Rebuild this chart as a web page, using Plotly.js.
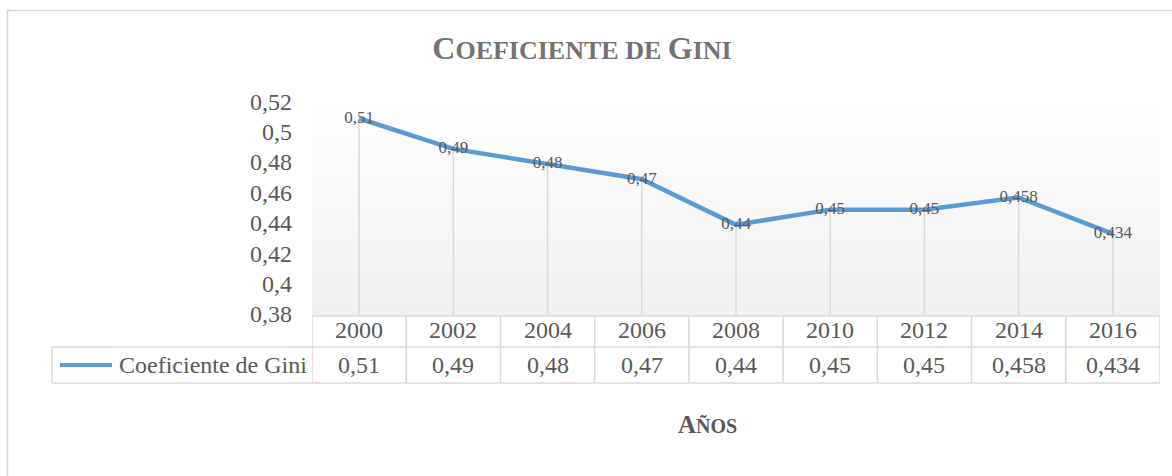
<!DOCTYPE html>
<html>
<head>
<meta charset="utf-8">
<script src="https://cdn.plot.ly/plotly-3.0.1.min.js"></script>
<style>html,body{margin:0;padding:0;background:#fff;}#chart{width:1172px;height:476px;}</style>
</head>
<body>
<div id="chart"></div>
<script>
// ---- data ----
const years = ['2000', '2002', '2004', '2006', '2008', '2010', '2012', '2014', '2016'];
const gini = [0.51, 0.49, 0.48, 0.47, 0.44, 0.45, 0.45, 0.458, 0.434];
const seriesName = 'Coeficiente de Gini';
const yTicks = [0.38, 0.40, 0.42, 0.44, 0.46, 0.48, 0.50, 0.52];
const chartTitle = 'C<span style="font-size:26px">OEFICIENTE DE </span>G<span style="font-size:26px">INI</span>';
const axisTitle = 'A<span style="font-size:20px">ÑOS</span>';

// ---- geometry helpers ----
const W = 1172, H = 476;
const L = 312, R = 1160, T = 103, B = 316;
const px = v => (v - L) / (R - L);
const py = v => (B - v) / (B - T);
const fmt = v => String(v).replace('.', ',');

const FONT = '"Liberation Serif", "Times New Roman", serif';
const GRID = '#d9d9d9';
const TXT = '#595959';
const BLUE = '#5b9bd5';

const trace = {
  type: 'scatter',
  mode: 'lines+text',
  x: years,
  y: gini,
  name: seriesName,
  text: gini.map(fmt),
  textposition: 'middle center',
  textfont: {family: FONT, size: 17, color: TXT},
  line: {color: BLUE, width: 4.5},
  error_y: {
    type: 'data', symmetric: false,
    array: gini.map(() => 0),
    arrayminus: gini.map(v => v - yTicks[0]),
    width: 0, color: GRID, thickness: 1.5
  },
  showlegend: false,
  hoverinfo: 'skip',
  cliponaxis: false
};

const shapes = [];
const rowTop = B, rowMid = 347, rowBot = 383, legLeft = 52;
// horizontal table lines
shapes.push({type: 'line', xref: 'paper', yref: 'paper', x0: 0, x1: 1, y0: py(rowTop), y1: py(rowTop), line: {color: GRID, width: 1.5}});
shapes.push({type: 'line', xref: 'paper', yref: 'paper', x0: px(legLeft), x1: 1, y0: py(rowMid), y1: py(rowMid), line: {color: GRID, width: 1.5}});
shapes.push({type: 'line', xref: 'paper', yref: 'paper', x0: px(legLeft), x1: 1, y0: py(rowBot), y1: py(rowBot), line: {color: GRID, width: 1.5}});
// left edge of legend cell
shapes.push({type: 'line', xref: 'paper', yref: 'paper', x0: px(legLeft), x1: px(legLeft), y0: py(rowMid), y1: py(rowBot), line: {color: GRID, width: 1.5}});
// vertical category boundaries
for (let i = 0; i <= years.length; i++) {
  shapes.push({type: 'line', xref: 'x', yref: 'paper', x0: i - 0.5, x1: i - 0.5, y0: py(rowTop), y1: py(rowBot), line: {color: GRID, width: 1.5}});
}
// legend key line
shapes.push({type: 'line', xref: 'paper', yref: 'paper', x0: px(60), x1: px(112), y0: py(365), y1: py(365), line: {color: BLUE, width: 4}});
// outer chart border (top and left visible)
shapes.push({type: 'line', xref: 'paper', yref: 'paper', x0: px(7), x1: px(W + 5), y0: py(10.5), y1: py(10.5), line: {color: GRID, width: 1.5}});
shapes.push({type: 'line', xref: 'paper', yref: 'paper', x0: px(7.5), x1: px(7.5), y0: py(10), y1: py(H + 5), line: {color: GRID, width: 1.5}});

const annotations = [];
years.forEach((yr, i) => {
  // year row of the data table
  annotations.push({xref: 'x', yref: 'paper', x: i, y: py(330), text: yr, showarrow: false,
    xanchor: 'center', yanchor: 'middle', font: {family: FONT, size: 24, color: TXT}});
  // value row of the data table
  annotations.push({xref: 'x', yref: 'paper', x: i, y: py(365), text: fmt(gini[i]), showarrow: false,
    xanchor: 'center', yanchor: 'middle', font: {family: FONT, size: 24, color: TXT}});
});
annotations.push({xref: 'paper', yref: 'paper', x: px(117), y: py(365), text: seriesName, showarrow: false,
  xanchor: 'left', yanchor: 'middle', font: {family: FONT, size: 24, color: TXT}});
annotations.push({xref: 'paper', yref: 'paper', x: px(707), y: py(424), text: '<b>' + axisTitle + '</b>', showarrow: false,
  xanchor: 'center', yanchor: 'middle', font: {family: FONT, size: 25, color: TXT}});

const gradSvg = '<svg xmlns="http://www.w3.org/2000/svg" width="100" height="100" preserveAspectRatio="none">' +
  '<defs><linearGradient id="g" x1="0" y1="0" x2="0" y2="1">' +
  '<stop offset="0" stop-color="#ffffff"/><stop offset="1" stop-color="#f0f0f0"/></linearGradient></defs>' +
  '<rect width="100" height="100" fill="url(#g)"/></svg>';

const layout = {
  width: W, height: H,
  margin: {l: L, r: W - R, t: T, b: H - B},
  paper_bgcolor: '#ffffff',
  plot_bgcolor: 'rgba(0,0,0,0)',
  separators: ',.',
  showlegend: false,
  title: {
    text: '<b>' + chartTitle + '</b>',
    xref: 'container', yref: 'container',
    x: 582 / W, xanchor: 'center',
    y: 1 - 48 / H, yanchor: 'middle',
    font: {family: FONT, size: 32, color: '#737373'}
  },
  xaxis: {
    type: 'category',
    range: [-0.5, years.length - 0.5],
    showgrid: false, zeroline: false, showline: false,
    ticks: '',
    showticklabels: false,
    fixedrange: true
  },
  yaxis: {
    range: [yTicks[0], yTicks[yTicks.length - 1] + 0.0002],
    tickmode: 'array',
    tickvals: yTicks,
    ticktext: yTicks.map(fmt),
    showgrid: false, zeroline: false, showline: false,
    ticks: '',
    tickfont: {family: FONT, size: 24, color: TXT},
    ticklabelstandoff: 19,
    ticklabelshift: -2,
    fixedrange: true
  },
  images: [{
    source: 'data:image/svg+xml;charset=utf-8,' + encodeURIComponent(gradSvg),
    xref: 'paper', yref: 'paper', x: 0, y: 1, sizex: 1, sizey: 1,
    sizing: 'stretch', layer: 'below', xanchor: 'left', yanchor: 'top'
  }],
  shapes: shapes,
  annotations: annotations
};

Plotly.newPlot('chart', [trace], layout, {displayModeBar: false, staticPlot: true});
</script>
</body>
</html>
